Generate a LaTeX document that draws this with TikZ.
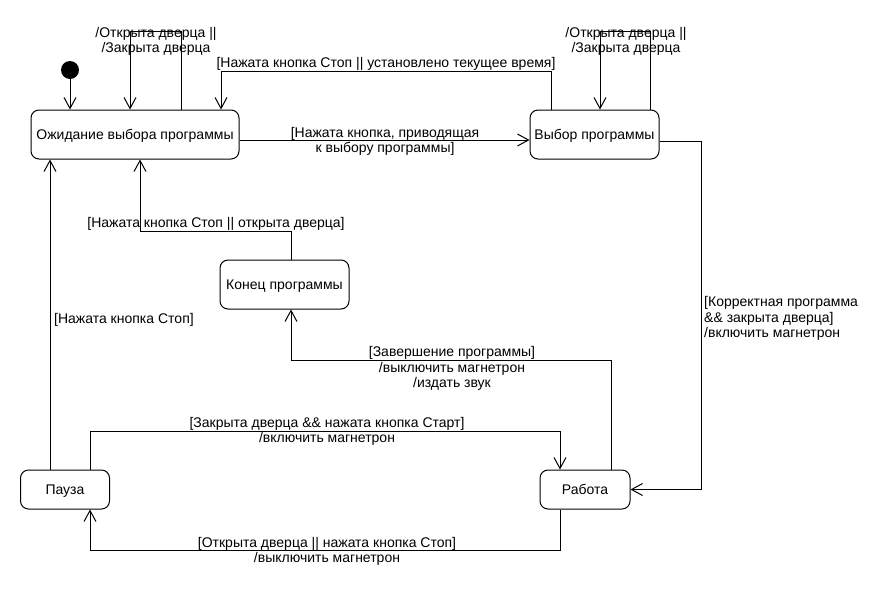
\documentclass[tikz,border=0pt]{standalone}
\usepackage{fontspec}
\setmainfont{Liberation Sans}
\usetikzlibrary{arrows.meta}
\begin{document}
\begin{tikzpicture}[x=1pt,y=-1pt,
  state/.style={draw, line width=1pt, rounded corners=8pt, inner sep=0pt, text height=12pt, text depth=3pt},
  arr/.style={draw, line width=1pt, -{Straight Barb[length=11pt,width=12pt,line width=1pt]}},
  lbl/.style={inner sep=0pt, align=center, yshift=-1.5pt, font=\fontsize{14}{15.5}\selectfont},
  every node/.style={font=\fontsize{14}{15.5}\selectfont}]
\useasboundingbox (0,0) rectangle (890,600);
% states
\node[circle, fill=black, minimum size=18pt, inner sep=0pt] (init) at (70,70) {};
\node[state, minimum width=208pt, minimum height=49pt] (wait) at (135,134.5) {Ожидание выбора программы};
\node[state, minimum width=129pt, minimum height=49pt] (choose) at (594.5,134.5) {Выбор программы};
\node[state, minimum width=129pt, minimum height=49pt] (fin) at (284.5,284.5) {Конец программы};
\node[state, minimum width=89pt, minimum height=39pt] (pause) at (65,489.5) {Пауза};
\node[state, minimum width=90pt, minimum height=39pt] (work) at (585,489.5) {Работа};
% helper coordinates
\coordinate (wl) at (130,31); \coordinate (wr) at (181,31);
\coordinate (cl) at (600,31); \coordinate (cr) at (650,31);
\coordinate (c1) at (551,71); \coordinate (c2) at (221,71);
\coordinate (h1) at (0,140);
\coordinate (r1) at (701,141);
\coordinate (k1) at (611,360); \coordinate (k2) at (291,360);
\coordinate (e1) at (291,231); \coordinate (e2) at (140,231);
\coordinate (p0) at (50,0);
\coordinate (p1) at (90,431); \coordinate (p2) at (560,431);
\coordinate (p3) at (560,550); \coordinate (p4) at (90,550);
% transitions
\draw[arr] (init) -- (wait.north -| init);
\draw[arr] (wait.north -| wr) -- (wr) -- (wl) -- (wait.north -| wl);
\draw[arr] (choose.north -| cr) -- (cr) -- (cl) -- (choose.north -| cl);
\draw[arr] (choose.north -| c1) -- (c1) -- (c2) -- (wait.north -| c2);
\draw[arr] (wait.east |- h1) -- (choose.west |- h1);
\draw[arr] (choose.east |- r1) -- (r1) -- (r1 |- work.east) -- (work.east);
\draw[arr] (work.north -| k1) -- (k1) -- (k2) -- (fin.south -| k2);
\draw[arr] (fin.north -| e1) -- (e1) -- (e2) -- (wait.south -| e2);
\draw[arr] (pause.north -| p0) -- (wait.south -| p0);
\draw[arr] (pause.north -| p1) -- (p1) -- (p2) -- (work.north -| p2);
\draw[arr] (work.south -| p3) -- (p3) -- (p4) -- (pause.south -| p4);
% labels
\node[lbl] (t1) at (156,40) {/Открыта дверца ||\\/Закрыта дверца};
\node[lbl] (t2) at (626,40) {/Открыта дверца ||\\/Закрыта дверца};
\node[lbl] (t3) at (386,62) {[Нажата кнопка Стоп || установлено текущее время]};
\node[lbl] (t4) at (385,140) {[Нажата кнопка, приводящая\\к выбору программы]};
\node[lbl] (t5) at (216,222) {[Нажата кнопка Стоп || открыта дверца]};
\node[lbl, anchor=west] (t6) at (54,318) {[Нажата кнопка Стоп]};
\node[lbl, align=left, anchor=west] (t7) at (704,317) {[Корректная программа\\\&\& закрыта дверца]\\/включить магнетрон};
\node[lbl] (t8) at (452,367) {[Завершение программы]\\/выключить магнетрон\\/издать звук};
\node[lbl] (t9) at (327,430) {[Закрыта дверца \&\& нажата кнопка Старт]\\/включить магнетрон};
\node[lbl] (t10) at (327,550) {[Открыта дверца || нажата кнопка Стоп]\\/выключить магнетрон};
\end{tikzpicture}
\end{document}
